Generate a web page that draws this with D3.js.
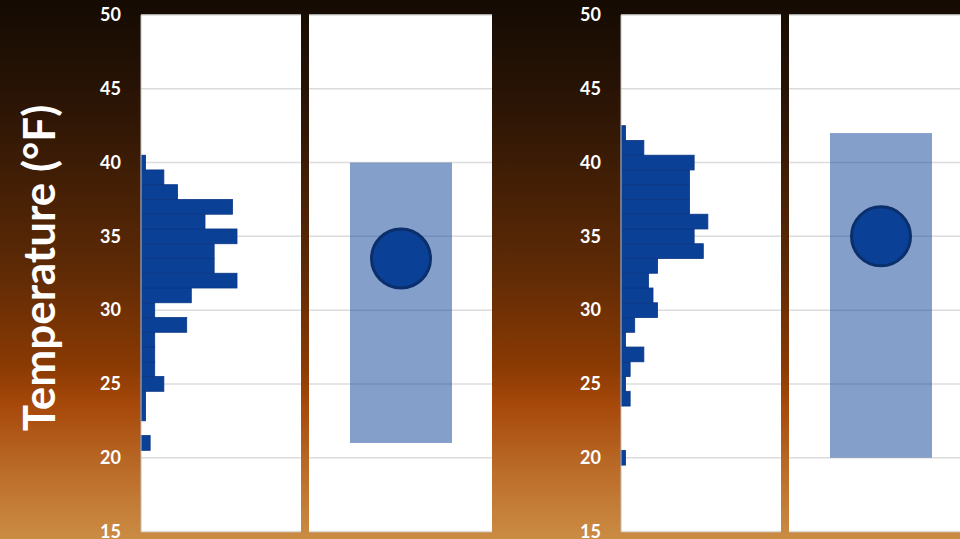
<!DOCTYPE html>
<html>
<head>
<meta charset="utf-8">
<script src="https://cdn.jsdelivr.net/npm/d3@7"></script>
<style>
  html, body { margin: 0; padding: 0; overflow: hidden; }
  svg { display: block; }
  .tick-label { fill: #fff; font-family: Lato, "Open Sans", sans-serif; font-weight: 700; font-size: 18px; }
</style>
</head>
<body>
<div id="chart"></div>
<script>
// temperature bins (°F), one bar per whole degree
const bins = d3.range(20, 43);
// counts per bin, left group and right group
const countsLeft  = [0, 2, 0, 1, 1, 5, 3, 3, 3, 10, 3, 11, 21, 16, 16, 21, 14, 20, 8, 5, 1, 0, 0];
const countsRight = [1, 0, 0, 0, 2, 1, 2, 5, 1, 3, 8, 7, 6, 8, 18, 16, 19, 15, 15, 15, 16, 5, 1];
// range summary: min, max, mean
const rangeLeft  = { min: 21, max: 40, mean: 33.5 };
const rangeRight = { min: 20, max: 42, mean: 35 };
const yTicks = [15, 20, 25, 30, 35, 40, 45, 50];

const width = 960, height = 539;

const svg = d3.select('#chart').append('svg')
    .attr('width', width)
    .attr('height', height);

// background gradient
const grad = svg.append('defs').append('linearGradient')
    .attr('id', 'bg')
    .attr('x1', 0).attr('y1', 0).attr('x2', 0).attr('y2', 1);
[['0%', '#140b03'], ['20%', '#2c1505'], ['50%', '#5e2a06'], ['68%', '#8a3a03'],
 ['75%', '#a6480a'], ['88%', '#bc6e2a'], ['100%', '#cb8c44']]
    .forEach(([o, c]) => grad.append('stop').attr('offset', o).attr('stop-color', c));

svg.append('rect')
    .attr('width', width).attr('height', height)
    .attr('fill', 'url(#bg)');

const yScale = d3.scaleLinear().domain([15, 50]).range([531.5, 15]);
const xScale = d3.scaleLinear().domain([0, 35]).range([0, 160]);

// title
svg.append('text')
    .attr('transform', `translate(55, 268) rotate(-90)`)
    .attr('text-anchor', 'middle')
    .attr('fill', '#fff')
    .style('font-family', 'Lato, "Open Sans", sans-serif')
    .style('font-weight', 700)
    .style('font-size', '44px')
    .text('Temperature (°F)');

const groups = [
    { x: 141, counts: countsLeft, range: rangeLeft },
    { x: 621, counts: countsRight, range: rangeRight }
];

groups.forEach(g => {
    const histW = 160, gap = 8, rangeW = 183;
    const rangeX = g.x + histW + gap;

    // tick labels
    svg.append('g').selectAll('text')
        .data(yTicks)
        .join('text')
        .attr('class', 'tick-label')
        .attr('x', g.x - 20)
        .attr('y', d => yScale(d))
        .attr('dy', '0.35em')
        .attr('text-anchor', 'end')
        .text(d => d);

    // histogram panel
    const hist = svg.append('g').attr('transform', `translate(${g.x},0)`);
    hist.append('rect')
        .attr('x', 0).attr('y', yScale(50))
        .attr('width', histW).attr('height', yScale(15) - yScale(50))
        .attr('fill', '#fff');
    hist.selectAll('.grid')
        .data(yTicks)
        .join('line')
        .attr('class', 'grid')
        .attr('x1', 0).attr('x2', histW)
        .attr('y1', d => yScale(d)).attr('y2', d => yScale(d))
        .attr('stroke', '#dcdcdc').attr('stroke-width', 1.5);
    hist.selectAll('.bar')
        .data(bins.map((b, i) => ({ bin: b, count: g.counts[i] })).filter(d => d.count > 0))
        .join('rect')
        .attr('class', 'bar')
        .attr('x', 0)
        .attr('y', d => yScale(d.bin + 0.5))
        .attr('height', d => yScale(d.bin - 0.5) - yScale(d.bin + 0.5))
        .attr('width', d => xScale(d.count))
        .attr('fill', '#0b4097')
        .attr('stroke', '#0a3684')
        .attr('stroke-width', 0.8);
    hist.append('line')
        .attr('x1', 0).attr('x2', 0)
        .attr('y1', yScale(50)).attr('y2', yScale(15))
        .attr('stroke', '#bfbfbf').attr('stroke-width', 1);

    // range panel
    const rng = svg.append('g').attr('transform', `translate(${rangeX},0)`);
    rng.append('rect')
        .attr('x', 0).attr('y', yScale(50))
        .attr('width', rangeW).attr('height', yScale(15) - yScale(50))
        .attr('fill', '#fff');
    rng.selectAll('.grid')
        .data(yTicks)
        .join('line')
        .attr('class', 'grid')
        .attr('x1', 0).attr('x2', rangeW)
        .attr('y1', d => yScale(d)).attr('y2', d => yScale(d))
        .attr('stroke', '#dcdcdc').attr('stroke-width', 1.5);
    rng.append('rect')
        .attr('x', 41).attr('width', 102)
        .attr('y', yScale(g.range.max))
        .attr('height', yScale(g.range.min) - yScale(g.range.max))
        .attr('fill', '#0b4097').attr('fill-opacity', 0.5);
    rng.append('circle')
        .attr('cx', 92)
        .attr('cy', yScale(g.range.mean))
        .attr('r', 29.5)
        .attr('fill', '#0a4096')
        .attr('stroke', '#0b2f6b')
        .attr('stroke-width', 3);
});
</script>
</body>
</html>
